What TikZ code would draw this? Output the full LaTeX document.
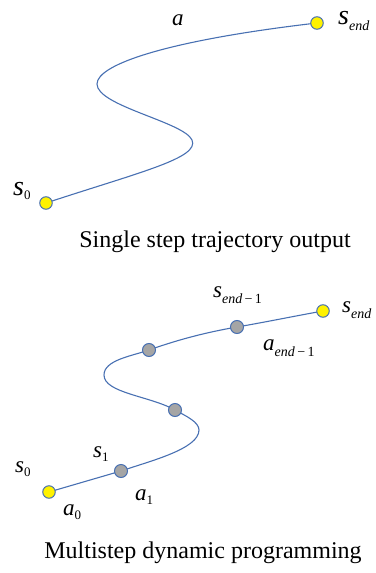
\documentclass[tikz,border=0pt]{standalone}
\usepackage{fontspec}
\setmainfont{Liberation Serif}
\usepackage{xcolor}
\usetikzlibrary{positioning}
\definecolor{trajblue}{RGB}{72,112,178}
\definecolor{stategray}{RGB}{165,165,165}
\newcommand{\tlab}[3][14]{\textit{#2}\raisebox{-6pt}{\fontsize{#1}{#1}\selectfont #3}}
\newcommand{\dlab}[2]{\textit{#1}\raisebox{-4pt}{\fontsize{13}{13}\selectfont #2}}
\tikzset{
    ends/.style={circle, draw=trajblue, fill=yellow, line width=1pt, inner sep=0pt, minimum size=12.5pt},
    mids/.style={circle, draw=trajblue, fill=stategray, line width=1pt, inner sep=0pt, minimum size=13pt},
    traj/.style={draw=trajblue, line width=1.1pt},
    lab/.style={anchor=base west, inner sep=0pt, font=\fontsize{28}{28}\selectfont},
    slab/.style={anchor=base west, inner sep=0pt, font=\fontsize{23}{23}\selectfont},
    caption/.style={anchor=base, inner sep=0pt, font=\fontsize{24}{24}\selectfont}
}
\begin{document}
\begin{tikzpicture}[x=1pt, y=-1pt]
    \useasboundingbox (0,0) rectangle (375,573);

    % Single step: one trajectory from start to end
    \coordinate (ta) at (46,203);
    \coordinate (tr) at (192,140);
    \coordinate (tl) at (97,84);
    \coordinate (tb) at (317,23);
    \draw[traj] (ta) .. controls (140,172) and (200,158) .. (tr)
                     .. controls (184,122) and (97,106) .. (tl)
                     .. controls (97,64) and (170,40) .. (tb);
    \node[ends] (s0top) at (ta) {};
    \node[ends] (sendtop) at (tb) {};

    % Top labels
    \node[slab] (atop) at (172,25) {\textit{a}};
    \node[lab] (s0toplab) at (13,195) {\dlab{s}{0}};
    \node[lab] (sendtoplab) at (338,24) {\tlab{s}{\textit{end}}};
    \node[caption] (captop) at (215,247) {Single step trajectory output};

    % Multistep: trajectory through intermediate states
    \coordinate (ma) at (49,492);
    \coordinate (m1) at (121,471);
    \coordinate (mr) at (199,430);
    \coordinate (m2) at (175,410);
    \coordinate (ml) at (104,375);
    \coordinate (m3) at (149,350);
    \coordinate (m4) at (237,327);
    \coordinate (mb) at (323,311);
    \draw[traj] (ma) .. controls (73,485) and (97,478) .. (m1)
                     .. controls (150,461) and (199,449) .. (mr)
                     .. controls (199,422) and (186,416) .. (m2)
                     .. controls (150,396) and (104,393) .. (ml)
                     .. controls (104,360) and (132,356) .. (m3)
                     .. controls (180,339) and (208,332) .. (m4)
                     .. controls (266,322) and (295,316) .. (mb);
    \node[ends] (s0) at (ma) {};
    \node[mids] (s1) at (m1) {};
    \node[mids] (sk) at (m2) {};
    \node[mids] (sj) at (m3) {};
    \node[mids] (sendm) at (m4) {};
    \node[ends] (send) at (mb) {};

    % Bottom labels
    \node[slab] (s0lab) at (15,472) {\dlab{s}{0}};
    \node[slab] (a0lab) at (63,515) {\dlab{a}{0}};
    \node[slab] (s1lab) at (93,457) {\dlab{s}{1}};
    \node[slab] (a1lab) at (135,500) {\dlab{a}{1}};
    \node[slab] (sendmlab) at (213,297) {\tlab{s}{\textit{end}\,−\,1}};
    \node[slab] (aendmlab) at (263,350) {\tlab{a}{\textit{end}\,−\,1}};
    \node[slab] (sendlab) at (342,312) {\tlab{s}{\textit{end}}};
    \node[caption] (capbot) at (203,558) {Multistep dynamic programming};

\end{tikzpicture}
\end{document}
